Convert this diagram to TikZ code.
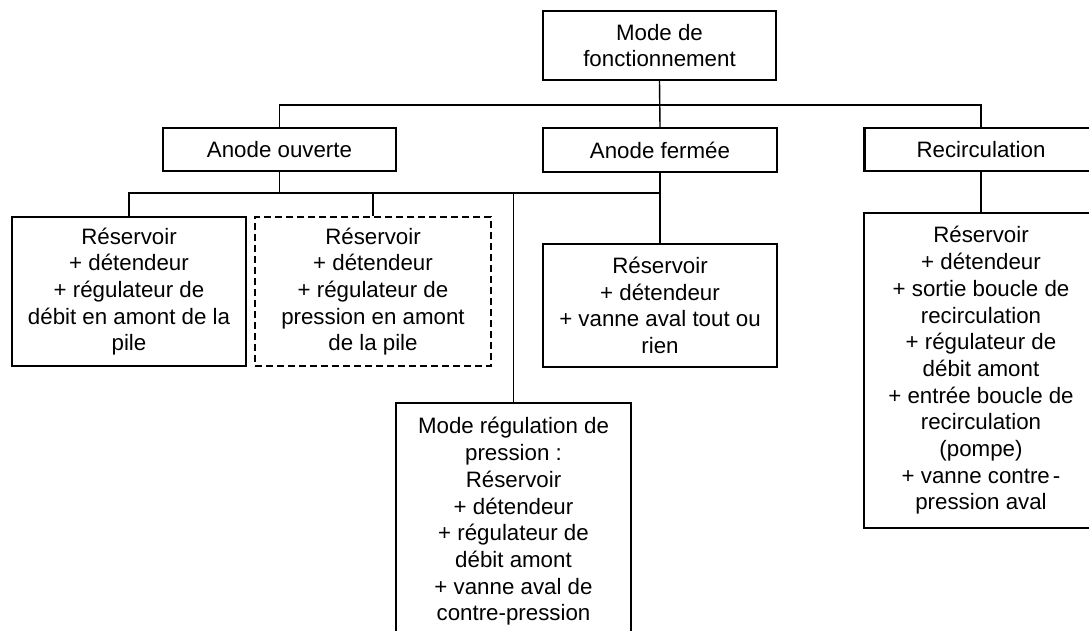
\documentclass[tikz,border=0pt]{standalone}
\usepackage{fontspec}
\setmainfont{Liberation Sans}
\begin{document}
\begin{tikzpicture}[x=1pt,y=-1pt,
  box/.style={draw, line width=2.1pt, align=center, inner sep=0pt, minimum width=#1},
  box/.default=233pt,
  dashbox/.style={box=#1, dash pattern=on 7pt off 4pt},
  link/.style={line width=1.4pt},
  every node/.style={font=\fontsize{22.3}{26.7}\selectfont}]
\fill[white] (0,0) rectangle (1089,630);
\clip (0,0) rectangle (1089,630);
\coordinate (bus1) at (0,105);
\coordinate (bus2) at (0,193);
% level 0
\node[box=233pt, minimum height=69pt] (top) at (659.5,45.5) {Mode de\\fonctionnement};
% level 1
\node[box=233pt, minimum height=43pt] (ao) at (279.5,149.5) {Anode ouverte};
\node[box=234pt, minimum height=44pt] (af) at (660,150) {Anode fermée};
\node[box=233pt, minimum height=43pt] (rc) at (981,149.5) {Recirculation};
% level 2
\node[box=234pt, minimum height=149pt] (l1) at (129,291.5)
  {Réservoir\\+ détendeur\\+ régulateur de\\débit en amont de la\\pile};
\node[dashbox=236pt, minimum height=149pt] (l2) at (373,291.5)
  {Réservoir\\+ détendeur\\+ régulateur de\\pression en amont\\de la pile};
\node[box=234pt, minimum height=123pt] (afc) at (660,305.5)
  {Réservoir\\+ détendeur\\+ vanne aval tout ou\\rien};
\node[box=235pt, minimum height=237pt] (mr) at (513.5,521.5)
  {Mode régulation de\\pression :\\Réservoir\\+ détendeur\\+ régulateur de\\débit amont\\+ vanne aval de\\contre-pression};
\node[box=234pt, minimum height=315pt] (rcc) at (981,370.5)
  {Réservoir\\+ détendeur\\+ sortie boucle de\\recirculation\\+ régulateur de\\débit amont\\+ entrée boucle de\\recirculation\\(pompe)\\+ vanne contre\hspace{3pt}-\\pression aval};
% connectors
\draw[link] (top.south) -- (af.north);
\draw[link] (ao.north) -- (ao.north |- bus1) -- (rc.north |- bus1) -- (rc.north);
\draw[link] (ao.south) -- (ao.south |- bus2);
\draw[link] (l1.north) -- (l1.north |- bus2) -- (af.south |- bus2);
\draw[link] (l2.north) -- (l2.north |- bus2);
\draw[link] (mr.north) -- (mr.north |- bus2);
\draw[link] (af.south) -- (afc.north);
\draw[link] (rc.south) -- (rcc.north);
\end{tikzpicture}
\end{document}
